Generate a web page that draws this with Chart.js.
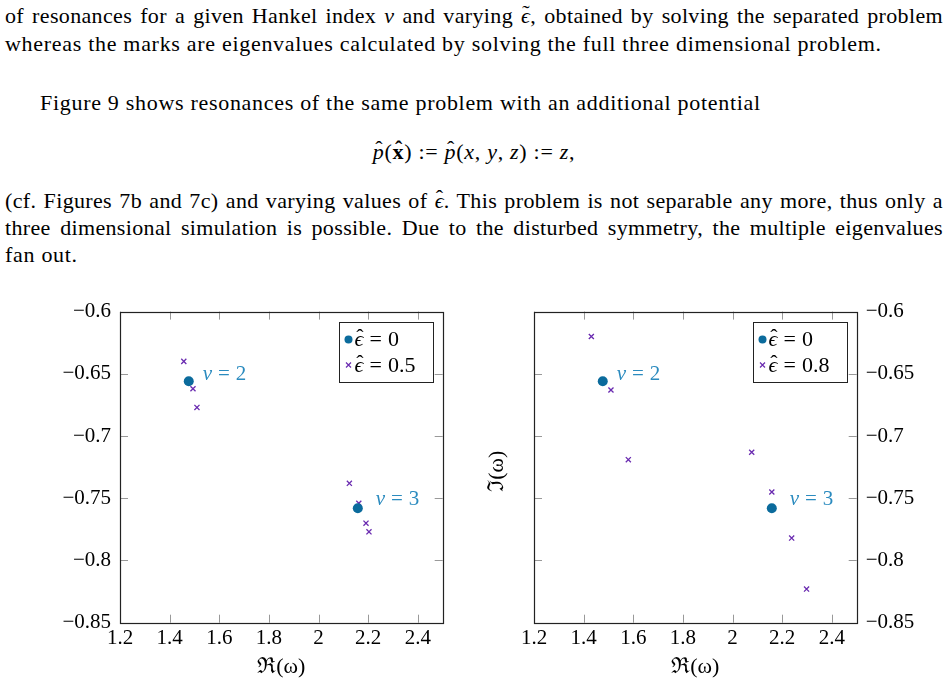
<!DOCTYPE html>
<html>
<head>
<meta charset="utf-8">
<script src="https://cdn.jsdelivr.net/npm/chart.js@4.4.1/dist/chart.umd.min.js"></script>
<style>
  body { margin: 0; background: #fff; width: 948px; height: 689px; overflow: hidden; position: relative; }
  .ln { position: absolute; left: 5px; width: 938px; font-family: "Liberation Serif", serif; font-size: 22px; line-height: 27px; color: #000; white-space: nowrap; letter-spacing: 0.7px; }
  .just { text-align: justify; text-align-last: justify; white-space: normal; letter-spacing: 0.35px; }
  .m { font-style: italic; }
  .acc { position: relative; display: inline-block; font-style: italic; }
  .acc::after { content: attr(data-a); position: absolute; left: 55%; top: -0.12em; transform: translateX(-50%); font-style: normal; }
  canvas { position: absolute; top: 290px; }
</style>
</head>
<body>
<div class="ln just" style="top:2px">of resonances for a given Hankel index <span class="m">ν</span> and varying <span class="acc" data-a="˜">ϵ</span>, obtained by solving the separated problem</div>
<div class="ln" style="top:30px">whereas the marks are eigenvalues calculated by solving the full three dimensional problem.</div>
<div class="ln" style="top:89px; left:40px">Figure 9 shows resonances of the same problem with an additional potential</div>
<div class="ln" style="top:138px; text-align:center"><span class="acc" data-a="ˆ">p</span>(<b class="acc" data-a="ˆ" style="font-style:normal">x</b>) := <span class="acc" data-a="ˆ">p</span>(<span class="m">x</span>, <span class="m">y</span>, <span class="m">z</span>) := <span class="m">z</span>,</div>
<div class="ln just" style="top:187px">(cf. Figures 7b and 7c) and varying values of <span class="acc" data-a="ˆ">ϵ</span>. This problem is not separable any more, thus only a</div>
<div class="ln just" style="top:214px">three dimensional simulation is possible. Due to the disturbed symmetry, the multiple eigenvalues</div>
<div class="ln" style="top:241px">fan out.</div>

<canvas id="left" width="474" height="399" style="left:0px"></canvas>
<canvas id="right" width="474" height="399" style="left:474px"></canvas>

<script>
// axis ticks
const xTickValues = [1.2, 1.4, 1.6, 1.8, 2, 2.2, 2.4];
const yTickValues = [-0.85, -0.8, -0.75, -0.7, -0.65, -0.6];

// separated problem (filled circles), same in both plots
const sepRe = [1.477, 2.158];
const sepIm = [-0.656, -0.758];
const nuValues = ['2', '3'];

// full 3d problem, eps = 0.5
const eps05Re = [1.457, 1.494, 1.510, 2.124, 2.162, 2.191, 2.203];
const eps05Im = [-0.640, -0.662, -0.677, -0.738, -0.754, -0.770, -0.777];

// full 3d problem, eps = 0.8
const eps08Re = [1.431, 1.510, 1.580, 2.077, 2.158, 2.238, 2.298];
const eps08Im = [-0.620, -0.663, -0.719, -0.713, -0.745, -0.782, -0.823];

const serif = "'Liberation Serif', 'DejaVu Serif', serif";
const blue = '#0b6b9c';
const labelBlue = '#2b8bbf';
const purple = '#6a2bb0';

Chart.defaults.font.family = serif;
Chart.defaults.color = '#000';

function pts(xs, ys) {
  return xs.map((x, i) => ({ x: x, y: ys[i] }));
}

function fmt(v) {
  let s = String(+Math.abs(v).toFixed(2));
  return v < 0 ? '\u2212' + s : s;
}

// draws "sym = value" with optional accent on sym, baseline middle
function drawEq(ctx, x, y, sym, accent, value, size) {
  ctx.textBaseline = 'middle';
  ctx.textAlign = 'left';
  ctx.font = 'italic ' + size + 'px ' + serif;
  const sw = ctx.measureText(sym).width;
  ctx.fillText(sym, x, y);
  if (accent) {
    ctx.font = size + 'px ' + serif;
    const aw = ctx.measureText(accent).width;
    ctx.fillText(accent, x + sw / 2 - aw / 2 + 1, y - size * 0.1);
  }
  ctx.font = size + 'px ' + serif;
  x += sw + size * 0.28;
  ctx.fillText('=', x, y);
  x += ctx.measureText('=').width + size * 0.28;
  ctx.fillText(value, x, y);
}

// frame + inner tick marks, like pgfplots
const framePlugin = {
  id: 'frame',
  afterDraw(chart) {
    const ctx = chart.ctx;
    const a = chart.chartArea;
    const xs = chart.scales.x, ys = chart.scales.y;
    ctx.save();
    ctx.strokeStyle = '#999';
    ctx.lineWidth = 1;
    ctx.beginPath();
    xTickValues.forEach(v => {
      const px = Math.round(xs.getPixelForValue(v)) + 0.5;
      ctx.moveTo(px, a.bottom); ctx.lineTo(px, a.bottom - 8);
      ctx.moveTo(px, a.top); ctx.lineTo(px, a.top + 8);
    });
    yTickValues.forEach(v => {
      const py = Math.round(ys.getPixelForValue(v)) + 0.5;
      ctx.moveTo(a.left, py); ctx.lineTo(a.left + 8, py);
      ctx.moveTo(a.right, py); ctx.lineTo(a.right - 8, py);
    });
    ctx.stroke();
    ctx.strokeStyle = '#222';
    ctx.lineWidth = 1.2;
    ctx.strokeRect(Math.round(a.left) + 0.5, Math.round(a.top) + 0.5, Math.round(a.right - a.left), Math.round(a.bottom - a.top));
    ctx.restore();
  }
};

// nu = 2, nu = 3 labels next to the circles
const nuPlugin = {
  id: 'nu',
  afterDatasetsDraw(chart) {
    const ctx = chart.ctx;
    const meta = chart.getDatasetMeta(0);
    const offs = [[14, -7], [18, -9]];
    ctx.save();
    ctx.fillStyle = labelBlue;
    meta.data.forEach((p, i) => {
      drawEq(ctx, p.x + offs[i][0], p.y + offs[i][1], 'ν', null, nuValues[i], 21);
    });
    ctx.restore();
  }
};

// legend box in top right corner of plot
const boxLegend = {
  id: 'boxLegend',
  afterDraw(chart) {
    const ctx = chart.ctx;
    const a = chart.chartArea;
    const w = 94, h = 60;
    const left = Math.round(a.right - 10 - w) + 0.5, top = Math.round(a.top + 10) + 0.5;
    ctx.save();
    ctx.fillStyle = '#fff';
    ctx.fillRect(left, top, w, h);
    ctx.strokeStyle = '#222';
    ctx.lineWidth = 1;
    ctx.strokeRect(left, top, w, h);
    chart.data.datasets.forEach((ds, i) => {
      const cy = top + 17 + i * 25.5;
      const cx = left + 9;
      if (ds.pointStyle === 'circle') {
        ctx.fillStyle = ds.backgroundColor;
        ctx.beginPath(); ctx.arc(cx, cy, 4, 0, Math.PI * 2); ctx.fill();
      } else {
        ctx.strokeStyle = ds.borderColor; ctx.lineWidth = 1.2;
        ctx.beginPath();
        ctx.moveTo(cx - 2.5, cy - 2.5); ctx.lineTo(cx + 2.5, cy + 2.5);
        ctx.moveTo(cx - 2.5, cy + 2.5); ctx.lineTo(cx + 2.5, cy - 2.5);
        ctx.stroke();
      }
      ctx.fillStyle = '#000';
      // label is "ϵ̂ = value"
      const value = ds.label.split('= ')[1];
      drawEq(ctx, left + 15, cy + 1, 'ϵ', 'ˆ', value, 22);
    });
    ctx.restore();
  }
};

// rotated y title between the plots (only on the right one)
const yTitlePlugin = {
  id: 'yTitle',
  afterDraw(chart) {
    const ctx = chart.ctx;
    const a = chart.chartArea;
    ctx.save();
    ctx.translate(23, (a.top + a.bottom) / 2 + 4);
    ctx.rotate(-Math.PI / 2);
    ctx.font = '22px ' + serif;
    ctx.textAlign = 'center';
    ctx.textBaseline = 'middle';
    ctx.fillStyle = '#000';
    ctx.fillText('\u2111(\u03c9)', 0, 0);
    ctx.restore();
  }
};

function makeChart(id, crossRe, crossIm, crossLabel, side) {
  const yW = side === 'left' ? 120 : 91.3;
  const plugins = [framePlugin, nuPlugin, boxLegend];
  if (side === 'right') plugins.push(yTitlePlugin);
  return new Chart(document.getElementById(id), {
    type: 'scatter',
    data: {
      datasets: [
        {
          label: 'ϵ̂ = 0',
          data: pts(sepRe, sepIm),
          pointStyle: 'circle',
          pointRadius: 5,
          backgroundColor: blue,
          borderColor: blue,
          borderWidth: 0
        },
        {
          label: crossLabel,
          data: pts(crossRe, crossIm),
          pointStyle: 'crossRot',
          pointRadius: 3.6,
          backgroundColor: purple,
          borderColor: purple,
          borderWidth: 1.3
        }
      ]
    },
    options: {
      responsive: false,
      animation: false,
      devicePixelRatio: 1,
      layout: { padding: { left: side === 'left' ? 0 : 60, right: side === 'left' ? 31.3 : 0, top: 10, bottom: 0 } },
      plugins: { legend: { display: false }, tooltip: { enabled: false } },
      scales: {
        x: {
          type: 'linear',
          min: 1.2,
          max: 2.5,
          afterBuildTicks: s => { s.ticks = xTickValues.map(v => ({ value: v })); },
          afterFit: s => { s.height = 66.3; },
          grid: { display: false, drawTicks: false },
          border: { display: false },
          ticks: { padding: 3, font: { size: 21 }, color: '#000', callback: v => fmt(v), autoSkip: false, maxRotation: 0 },
          title: { display: true, text: '\u211c(\u03c9)', font: { size: 22 }, color: '#000', padding: { top: 0, bottom: 9 } }
        },
        y: {
          type: 'linear',
          position: side,
          min: -0.85,
          max: -0.6,
          afterBuildTicks: s => { s.ticks = yTickValues.map(v => ({ value: v })); },
          afterFit: s => { s.width = yW; },
          grid: { display: false, drawTicks: false },
          border: { display: false },
          ticks: { padding: 9, font: { size: 21 }, color: '#000', callback: v => fmt(v), autoSkip: false }
        }
      }
    },
    plugins: plugins
  });
}

makeChart('left', eps05Re, eps05Im, 'ϵ̂ = 0.5', 'left');
makeChart('right', eps08Re, eps08Im, 'ϵ̂ = 0.8', 'right');
</script>
</body>
</html>
